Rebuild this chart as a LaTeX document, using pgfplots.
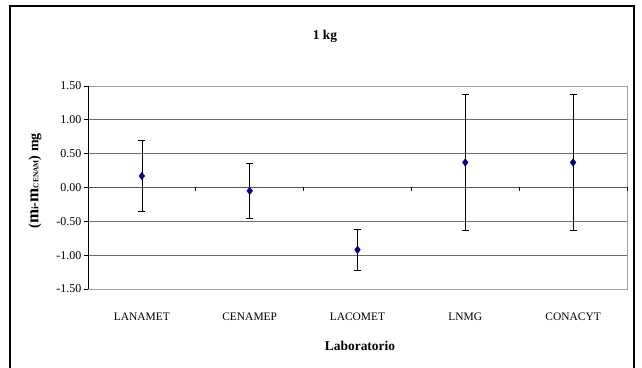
\documentclass[border=0pt]{standalone}
\usepackage{pgfplots}
\pgfplotsset{compat=1.18}
\usepackage{fontspec}
\setmainfont{Liberation Serif}
\definecolor{navyd}{RGB}{0,0,128}
\definecolor{gridg}{RGB}{110,110,110}
\definecolor{boxg}{RGB}{160,160,160}
\begin{document}
\begin{tikzpicture}
\path[use as bounding box] (0,0) rectangle (642bp,368bp);
\fill[white] (0,0) rectangle (642bp,368bp);
\draw[black, line width=1.4bp] (10bp,-3bp) -- (10bp,362bp) -- (634bp,362bp) -- (634bp,-3bp);
\begin{axis}[
  at={(88bp,79bp)}, anchor=south west,
  width=539bp, height=203bp, scale only axis,
  xmin=0, xmax=5, ymin=-1.5, ymax=1.5,
  xtick={0.5,1.5,2.5,3.5,4.5},
  xticklabels={LANAMET,CENAMEP,LACOMET,LNMG,CONACYT},
  x tick style={draw=none},
  xticklabel style={anchor=center, inner sep=0pt, yshift=-24bp, font=\fontsize{11.5}{12}\selectfont},
  ytick={-1.5,-1,...,1.5},
  ymajorgrids,
  grid style={gridg, line width=0.8bp},
  y tick style={black, line width=0.8bp},
  tick align=outside,
  major tick length=3.5bp,
  yticklabel style={anchor=east, inner sep=0pt, xshift=-3bp, font=\fontsize{12}{13}\selectfont},
  /pgf/number format/assume math mode=true,
  yticklabel={\pgfmathprintnumber[fixed,fixed zerofill,precision=2]{\tick}},
  axis line style={boxg, line width=0.8bp},
  tick pos=left,
  clip=false,
]
\draw[black, line width=0.8bp] (axis cs:0,-1.5) -- (axis cs:0,1.5);
\draw[gridg!80!black, line width=1bp] (axis cs:0,0) -- (axis cs:5,0);
\pgfplotsinvokeforeach{1,2,3,4,5}{\draw[black, line width=0.8bp] (axis cs:#1,0) -- ([yshift=-3.5bp]axis cs:#1,0);}
\addplot[only marks, mark=diamond*, mark size=3.8bp, color=navyd,
  error bars/.cd, y dir=both, y explicit,
  error bar style={black, line width=0.8bp},
  error mark options={rotate=90, black, mark size=3.5bp, line width=0.8bp}]
  table[x=x, y=y, y error=e] {
x y e
0.5 0.17 0.52
1.5 -0.05 0.40
2.5 -0.92 0.30
3.5 0.37 1.00
4.5 0.37 1.00
};
\end{axis}
\node[font=\bfseries\fontsize{13.5}{15}\selectfont] at (325bp,332bp) {1 kg};
\node[font=\bfseries\fontsize{13.5}{15}\selectfont] at (360bp,22bp) {Laboratorio};
\node[rotate=90, font=\bfseries\fontsize{14}{15}\selectfont] at (35bp,187bp) {({\fontsize{17}{18}\selectfont m}{\fontsize{10}{11}\selectfont i}-{\fontsize{17}{18}\selectfont m}{\fontsize{7.5}{8}\selectfont CENAM}) mg};
\end{tikzpicture}
\end{document}
